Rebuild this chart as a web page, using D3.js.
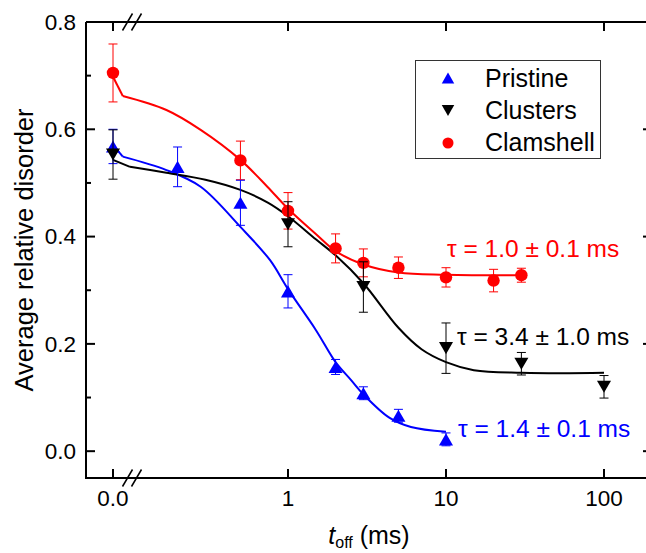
<!DOCTYPE html>
<html>
  <head>
    <meta charset="utf-8">
    <title>Average relative disorder vs t_off</title>
    <script src="https://d3js.org/d3.v7.min.js"></script>
    <style>
      body { margin: 0; background: #fff; }
      text { font-family: "Liberation Sans", Arial, sans-serif; }
    </style>
  </head>
  <body>
    <div id="chart"></div>
    <script>
      // data (t in ms, value, error)
      const pristineT = [0, 0.2, 0.5, 1, 2, 3, 5, 10];
      const pristineV = [0.568, 0.530, 0.463, 0.298, 0.157, 0.108, 0.066, 0.022];
      const pristineE = [0.032, 0.037, 0.042, 0.031, 0.014, 0.012, 0.012, 0.012];

      const clustersT = [0, 1, 3, 10, 30, 100];
      const clustersV = [0.553, 0.423, 0.306, 0.192, 0.163, 0.120];
      const clustersE = [0.046, 0.042, 0.047, 0.047, 0.021, 0.021];

      const clamshellT = [0, 0.5, 1, 2, 3, 5, 10, 20, 30];
      const clamshellV = [0.705, 0.542, 0.448, 0.378, 0.351, 0.342, 0.324, 0.318, 0.328];
      const clamshellE = [0.054, 0.036, 0.034, 0.027, 0.026, 0.020, 0.018, 0.021, 0.013];

      // fitted curves, sampled from the figure
      const pristineFitT = [0, 0.09, 0.17, 0.28, 0.5, 0.77, 1, 1.5, 2, 2.5, 3, 4.4, 6, 10];
      const pristineFitV = [0.571, 0.549, 0.524, 0.493, 0.418, 0.356, 0.302, 0.226, 0.166, 0.133, 0.106, 0.062, 0.045, 0.036];
      const clustersFitT = [0, 0.1, 0.17, 0.3, 0.5, 0.75, 1, 1.5, 2, 3, 5, 7, 10, 15, 30, 100];
      const clustersFitV = [0.543, 0.530, 0.519, 0.506, 0.487, 0.463, 0.438, 0.395, 0.365, 0.313, 0.230, 0.190, 0.166, 0.151, 0.146, 0.146];
      const clamshellFitT = [0, 0.09, 0.17, 0.28, 0.5, 0.74, 1, 1.5, 2, 3, 5, 10, 30];
      const clamshellFitV = [0.698, 0.662, 0.636, 0.599, 0.543, 0.493, 0.452, 0.405, 0.373, 0.348, 0.333, 0.329, 0.328];

      const seriesNames = ["Pristine", "Clusters", "Clamshell"];
      const tauLabels = ["\u03c4 = 1.4 \u00b1 0.1 ms", "\u03c4 = 3.4 \u00b1 1.0 ms", "\u03c4 = 1.0 \u00b1 0.1 ms"];
      const xTickValues = [0, 1, 10, 100];
      const xTickLabels = ["0.0", "1", "10", "100"];
      const yTickValues = [0, 0.2, 0.4, 0.6, 0.8];
      const yMinorValues = [0.1, 0.3, 0.5, 0.7];

      // layout
      const W = 646, H = 553;
      const mLeft = 86, mTop = 22, mRight = 652, mBottom = 478;
      const xZero = 113;
      const colors = { Pristine: "#0000ff", Clusters: "#000000", Clamshell: "#ff0000" };

      const xLog = d3.scaleLog().domain([1, 100]).range([288, 604]);
      const x = t => t === 0 ? xZero : xLog(t);
      const y = d3.scaleLinear().domain([-0.05, 0.8]).range([mBottom, mTop]);

      const svg = d3.select("#chart").append("svg")
        .attr("width", W).attr("height", H);

      // marker shapes
      function markerPath(kind, s) {
        const p = d3.path();
        if (kind === "Clamshell") {
          p.arc(0, 0, s * 0.46, 0, 2 * Math.PI);
        } else {
          const w = s * 0.52, h = s * 0.45;
          const d = kind === "Pristine" ? 1 : -1;
          p.moveTo(0, -d * h); p.lineTo(w, d * h); p.lineTo(-w, d * h); p.closePath();
        }
        return p.toString();
      }

      const series = [
        { name: "Pristine", t: pristineT, v: pristineV, e: pristineE, ft: pristineFitT, fv: pristineFitV },
        { name: "Clusters", t: clustersT, v: clustersV, e: clustersE, ft: clustersFitT, fv: clustersFitV },
        { name: "Clamshell", t: clamshellT, v: clamshellV, e: clamshellE, ft: clamshellFitT, fv: clamshellFitV }
      ];

      // fit curves: straight from t=0 across the break, smooth on the log part
      const smooth = d3.line().curve(d3.curveCatmullRom.alpha(0.5)).x(d => x(d[0])).y(d => y(d[1]));
      const straight = d3.line().x(d => x(d[0])).y(d => y(d[1]));
      series.forEach(s => {
        const pts = s.ft.map((t, i) => [t, s.fv[i]]);
        svg.append("path").attr("d", straight(pts.slice(0, 2)))
          .attr("fill", "none").attr("stroke", colors[s.name]).attr("stroke-width", 2);
        svg.append("path").attr("d", smooth(pts.slice(1)))
          .attr("fill", "none").attr("stroke", colors[s.name]).attr("stroke-width", 2);
      });

      // error bars and markers
      const drawOrder = [series[2], series[0], series[1]];
      drawOrder.forEach(s => {
        const g = svg.append("g");
        const pts = s.t.map((t, i) => ({ t: t, v: s.v[i], e: s.e[i] }));
        const eb = g.selectAll(".eb").data(pts).join("g")
          .attr("stroke", colors[s.name]).attr("stroke-width", 1);
        eb.append("line")
          .attr("x1", d => x(d.t)).attr("x2", d => x(d.t))
          .attr("y1", d => y(d.v - d.e)).attr("y2", d => y(d.v + d.e));
        [1, -1].forEach(sign => {
          eb.append("line")
            .attr("x1", d => x(d.t) - 4.5).attr("x2", d => x(d.t) + 4.5)
            .attr("y1", d => y(d.v + sign * d.e)).attr("y2", d => y(d.v + sign * d.e));
        });
        g.selectAll(".mk").data(pts).join("path")
          .attr("d", markerPath(s.name, 13.5))
          .attr("transform", d => `translate(${x(d.t)},${y(d.v)})`)
          .attr("fill", colors[s.name]);
      });

      // axes frame
      const axis = svg.append("g").attr("stroke", "#000").attr("stroke-width", 2);
      axis.append("line").attr("x1", mLeft).attr("x2", mRight).attr("y1", mBottom).attr("y2", mBottom);
      axis.append("line").attr("x1", mLeft).attr("x2", mRight).attr("y1", mTop).attr("y2", mTop);
      axis.append("line").attr("x1", mLeft).attr("x2", mLeft).attr("y1", mTop).attr("y2", mBottom + 1);
      axis.append("line").attr("x1", mRight).attr("x2", mRight).attr("y1", mTop).attr("y2", mBottom);

      // x ticks (inward, top and bottom)
      axis.selectAll(".xt").data(xTickValues).join("line")
        .attr("x1", d => x(d)).attr("x2", d => x(d)).attr("y1", mBottom).attr("y2", mBottom - 9);
      axis.selectAll(".xtt").data(xTickValues).join("line")
        .attr("x1", d => x(d)).attr("x2", d => x(d)).attr("y1", mTop).attr("y2", mTop + 9);
      // y ticks (inward, left and right)
      axis.selectAll(".yt").data(yTickValues).join("line")
        .attr("x1", mLeft).attr("x2", mLeft + 9).attr("y1", d => y(d)).attr("y2", d => y(d));
      axis.selectAll(".ym").data(yMinorValues).join("line")
        .attr("x1", mLeft).attr("x2", mLeft + 5).attr("y1", d => y(d)).attr("y2", d => y(d));
      axis.selectAll(".ytr").data(yTickValues).join("line")
        .attr("x1", mRight).attr("x2", mRight - 9).attr("y1", d => y(d)).attr("y2", d => y(d));
      axis.selectAll(".ymr").data(yMinorValues).join("line")
        .attr("x1", mRight).attr("x2", mRight - 5).attr("y1", d => y(d)).attr("y2", d => y(d));

      // axis break marks
      const brk = svg.append("g").attr("stroke", "#000").attr("stroke-width", 1.5);
      [mTop, mBottom].forEach(yy => {
        [127.5, 136.5].forEach(xx => {
          brk.append("line").attr("x1", xx - 5).attr("y1", yy + 8.5)
            .attr("x2", xx + 5).attr("y2", yy - 8.5);
        });
      });

      // tick labels
      svg.selectAll(".xl").data(xTickValues).join("text")
        .attr("x", d => x(d)).attr("y", 506)
        .attr("text-anchor", "middle").attr("font-size", 22.5)
        .text((d, i) => xTickLabels[i]);
      svg.selectAll(".yl").data(yTickValues).join("text")
        .attr("x", mLeft - 10).attr("y", d => y(d) + 7.8)
        .attr("text-anchor", "end").attr("font-size", 22.5)
        .text(d => d3.format(".1f")(d));

      // axis titles
      svg.append("text")
        .attr("transform", "translate(33,250) rotate(-90)")
        .attr("text-anchor", "middle").attr("font-size", 25.5)
        .text("Average relative disorder");
      const xt = svg.append("text").attr("x", 369).attr("y", 544)
        .attr("text-anchor", "middle").attr("font-size", 25);
      xt.append("tspan").attr("font-style", "italic").text("t");
      xt.append("tspan").attr("font-size", 16).attr("dy", 4).text("off");
      xt.append("tspan").attr("dy", -4).text(" (ms)");

      // legend
      const lg = svg.append("g");
      lg.append("rect").attr("x", 415.5).attr("y", 60.5).attr("width", 185).attr("height", 98)
        .attr("fill", "#fff").attr("stroke", "#333").attr("stroke-width", 1);
      seriesNames.forEach((n, i) => {
        lg.append("path").attr("d", markerPath(n, 12))
          .attr("transform", `translate(448,${78 + i * 32.5})`)
          .attr("fill", colors[n]);
        lg.append("text").attr("x", 485).attr("y", 87 + i * 32)
          .attr("font-size", 25).text(n);
      });

      // fit time constants
      const tauPos = [[458, 437], [457, 345], [447, 257]];
      series.forEach((s, i) => {
        svg.append("text").attr("x", tauPos[i][0]).attr("y", tauPos[i][1])
          .attr("font-size", 24.5).attr("fill", colors[s.name])
          .text(tauLabels[i]);
      });
    </script>
  </body>
</html>
